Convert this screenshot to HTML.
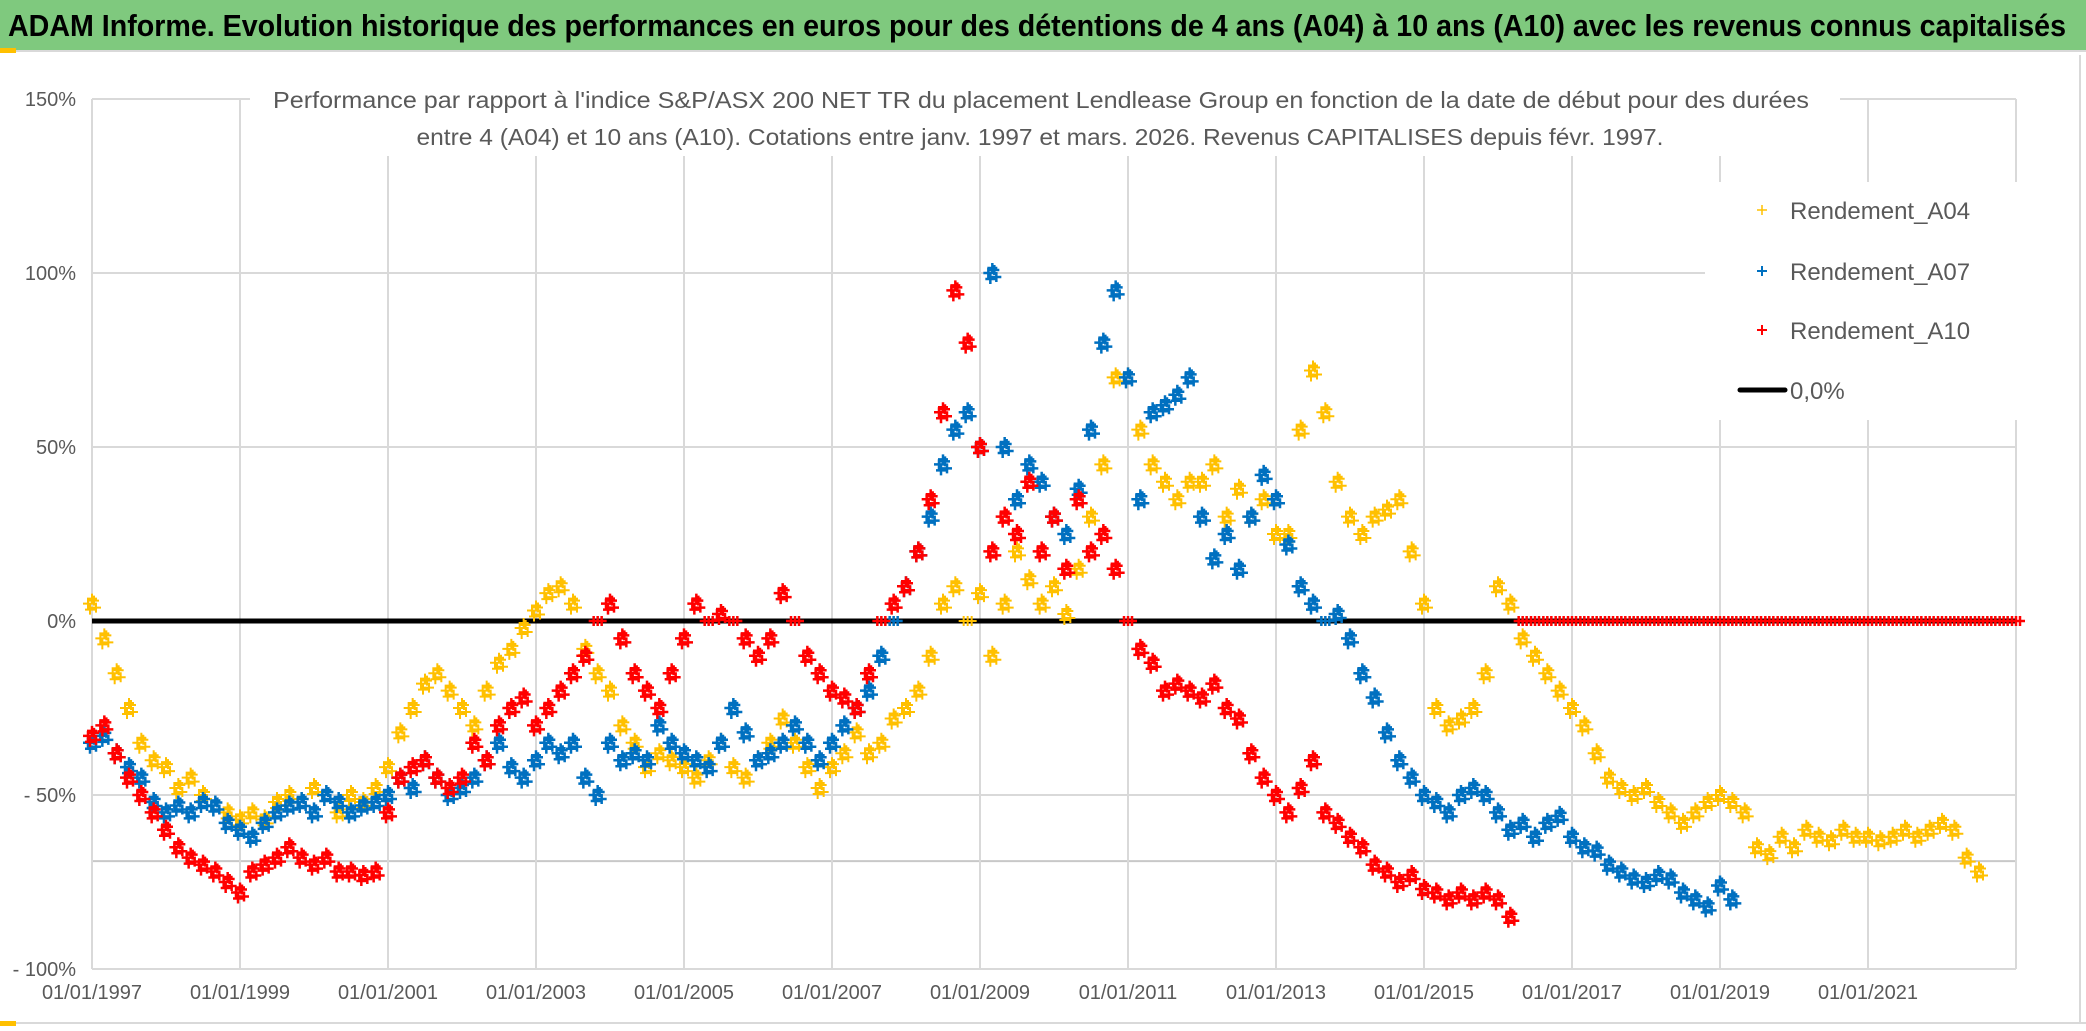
<!DOCTYPE html>
<html><head><meta charset="utf-8">
<style>
html,body{margin:0;padding:0;background:#fff;}
svg{display:block;}
text{font-family:"Liberation Sans",sans-serif;}
</style></head>
<body>
<svg id="chart" width="2086" height="1031" viewBox="0 0 2086 1031" xmlns="http://www.w3.org/2000/svg">
  <rect x="0" y="0" width="2086" height="1031" fill="#fff"/>
  <rect x="0" y="0" width="2086" height="50" fill="#7fc97e"/>
  <line x1="0" y1="51" x2="2086" y2="51" stroke="#d9d9d9" stroke-width="2"/>
  <rect x="0" y="48" width="16" height="5" fill="#ffc000"/>
  <text x="8" y="36" font-size="31" font-weight="bold" fill="#000" textLength="2058" lengthAdjust="spacingAndGlyphs">ADAM Informe. Evolution historique des performances en euros pour des détentions de 4 ans (A04) à 10 ans (A10) avec les revenus connus capitalisés</text>
  <line x1="2080" y1="55" x2="2080" y2="1022" stroke="#d9d9d9" stroke-width="2"/>
  <line x1="0" y1="1023" x2="2086" y2="1023" stroke="#d9d9d9" stroke-width="2"/>
  <rect x="0" y="1021" width="16" height="5" fill="#ffc000"/>
  <g id="grid"></g>
  <g id="axes"></g>
  <g id="marks"></g>
  <rect x="250" y="76" width="1590" height="80" fill="#fff"/>
  <text x="1041" y="108" font-size="23" fill="#595959" text-anchor="middle" textLength="1536" lengthAdjust="spacingAndGlyphs">Performance par rapport à l'indice S&amp;P/ASX 200 NET TR  du placement Lendlease Group en fonction de la date de début pour des durées</text>
  <text x="1040" y="145" font-size="23" fill="#595959" text-anchor="middle" textLength="1247" lengthAdjust="spacingAndGlyphs">entre 4 (A04) et 10 ans (A10). Cotations entre janv. 1997 et mars. 2026. Revenus CAPITALISES depuis févr. 1997.</text>
  <g>
    <rect x="1705" y="182" width="330" height="238" fill="#fff"/>
    <g>
      <path d="M1757 210h10M1762 205v10" stroke="#ffc000" stroke-width="1.5"/>
      <text x="1790" y="219" font-size="24" fill="#595959">Rendement_A04</text>
    </g>
    <g>
      <path d="M1757 271h10M1762 266v10" stroke="#0070c0" stroke-width="2"/>
      <text x="1790" y="280" font-size="24" fill="#595959">Rendement_A07</text>
    </g>
    <g>
      <path d="M1757 330h10M1762 325v10" stroke="#ff0000" stroke-width="2"/>
      <text x="1790" y="339" font-size="24" fill="#595959">Rendement_A10</text>
    </g>
    <g>
      <line x1="1740" y1="390" x2="1785" y2="390" stroke="#000" stroke-width="5" stroke-linecap="round"/>
      <text x="1790" y="399" font-size="24" fill="#595959">0,0%</text>
    </g>
  </g>
</svg>
<script>
const yTicks = [150, 100, 50, 0, -50, -100];
const yTickLabels = ["150%", "100%", "50%", "0%", "- 50%", "- 100%"];
const xTicks = [1997, 1999, 2001, 2003, 2005, 2007, 2009, 2011, 2013, 2015, 2017, 2019, 2021];
const xTickLabels = ["01/01/1997","01/01/1999","01/01/2001","01/01/2003","01/01/2005","01/01/2007","01/01/2009","01/01/2011","01/01/2013","01/01/2015","01/01/2017","01/01/2019","01/01/2021"];
const extraGridValue = [-69];
const zeroLineValue = [0];
const seriesStart = 1997;
const seriesStep = 1/6;
const a04 = [5,-5,-15,-25,-35,-40, -42,-48,-45,-50,-53,-55, -57,-55,-57,-52,-50,-52, -48,-50,-55,-50,-52,-48,
  -42,-32,-25,-18,-15,-20, -25,-30,-20,-12,-8,-2, 3,8,10,5,-8,-15, -20,-30,-35,-42,-38,-40,
  -42,-45,-40,-35,-42,-45, -40,-35,-28,-35,-42,-48, -42,-38,-32,-38,-35,-28, -25,-20,-10,5,10,0,
  8,-10,5,20,12,5, 10,2,15,30,45,70, 70,55,45,40,35,40, 40,45,30,38,30,35,
  25,25,55,72,60,40, 30,25,30,32,35,20, 5,-25,-30,-28,-25,-15, 10,5,-5,-10,-15,-20,
  -25,-30,-38,-45,-48,-50, -48,-52,-55,-58,-55,-52, -50,-52,-55,-65,-67,-62, -65,-60,-62,-63,-60,-62,
  -62,-63,-62,-60,-62,-60, -58,-60,-68,-72];
const a07 = [-35,-33,-38,-42,-45,-52, -55,-53,-55,-52,-53,-58, -60,-62,-58,-55,-53,-52, -55,-50,-52,-55,-53,-52,
  -50,-45,-48,-40,-45,-50, -48,-45,-40,-35,-42,-45, -40,-35,-38,-35,-45,-50, -35,-40,-38,-40,-30,-35,
  -38,-40,-42,-35,-25,-32, -40,-38,-35,-30,-35,-40, -35,-30,-25,-20,-10,0, 10,20,30,45,55,60,
  50,100,50,35,45,40, 30,25,38,55,80,95, 70,35,60,62,65,70, 30,18,25,15,30,42,
  35,22,10,5,0,2, -5,-15,-22,-32,-40,-45, -50,-52,-55,-50,-48,-50, -55,-60,-58,-62,-58,-56,
  -62,-65,-66,-70,-72,-74, -75,-73,-74,-78,-80,-82, -76,-80];
const a10 = [-33,-30,-38,-45,-50,-55, -60,-65,-68,-70,-72,-75, -78,-72,-70,-68,-65,-68, -70,-68,-72,-72,-73,-72,
  -55,-45,-42,-40,-45,-48, -45,-35,-40,-30,-25,-22, -30,-25,-20,-15,-10,0, 5,-5,-15,-20,-25,-15,
  -5,5,0,2,0,-5, -10,-5,8,0,-10,-15, -20,-22,-25,-15,0,5, 10,20,35,60,95,80,
  50,20,30,25,40,20, 30,15,35,20,25,15, 0,-8,-12,-20,-18,-20, -22,-18,-25,-28,-38,-45,
  -50,-55,-48,-40,-55,-58, -62,-65,-70,-72,-75,-73, -77,-78,-80,-78,-80,-78, -80,-85,
  0,0,0,0, 0,0,0,0,0,0, 0,0,0,0,0,0, 0,0,0,0,0,0, 0,0,0,0,0,0, 0,0,0,0,0,0, 0,0,0,0,0,0, 0];

const NS = "http://www.w3.org/2000/svg";
const X0 = 92, PX_PER_YEAR = 74, XEND = 2016;
const Y0 = 621, PX_PER_PCT = 3.48;
function xScale(t){ return X0 + (t - 1997) * PX_PER_YEAR; }
function yScale(v){ return Y0 - v * PX_PER_PCT; }
function mk(tag, attrs, parent){ const e = document.createElementNS(NS, tag); for (const k in attrs) e.setAttribute(k, attrs[k]); parent.appendChild(e); return e; }

const grid = document.getElementById('grid');
const axes = document.getElementById('axes');
const marks = document.getElementById('marks');

yTicks.forEach((v, i) => {
  if (v !== 0) {
    const l = mk('line', {x1: X0, x2: XEND, y1: yScale(v), y2: yScale(v), stroke: '#d9d9d9', 'stroke-width': 2}, grid);
    
    
  }
  const t = mk('text', {x: 76, y: yScale(v) + 7, 'font-size': 20, fill: '#595959', 'text-anchor': 'end'}, axes);
  t.textContent = yTickLabels[i];
  
  
});
extraGridValue.forEach(v => {
  const l = mk('line', {x1: X0, x2: XEND, y1: yScale(v), y2: yScale(v), stroke: '#c8c8c8', 'stroke-width': 2}, grid);
  
  
});
xTicks.forEach((t, i) => {
  const l = mk('line', {x1: xScale(t), x2: xScale(t), y1: yScale(150), y2: yScale(-100), stroke: '#d9d9d9', 'stroke-width': 2}, grid);
  
  
  const tx = mk('text', {x: xScale(t), y: 999, 'font-size': 20, fill: '#595959', 'text-anchor': 'middle'}, axes);
  tx.textContent = xTickLabels[i];
  
  
});
const xEndLine = mk('line', {x1: XEND, x2: XEND, y1: yScale(150), y2: yScale(-100), stroke: '#d9d9d9', 'stroke-width': 2}, grid);



zeroLineValue.forEach(v => {
  const z = mk('line', {x1: X0, x2: XEND, y1: yScale(v), y2: yScale(v), stroke: '#000', 'stroke-width': 5}, marks);
  
  
});

// marker cluster offsets (pixel styling: each reading drawn as a small dense cluster of "+" like the daily scatter)
const CLUSTER = [[-4,0],[0,-5],[4,4],[-2,6],[2,-3]];
function drawSeries(vals, color, name, sw){
  const g = mk('g', {stroke: color, 'stroke-width': sw, fill: 'none'}, marks);
  
  
  vals.forEach((v, i) => {
    const cx = xScale(seriesStart + i * seriesStep), cy = yScale(v);
    let d = '';
    const spread = v === 0 ? [[-4,0],[0,0],[4,0]] : CLUSTER;
    spread.forEach(([dx, dy]) => { d += `M${cx+dx-5} ${cy+dy}h10M${cx+dx} ${cy+dy-5}v10`; });
    const p = mk('path', {d: d}, g);
    
    
  });
}
drawSeries(a04, '#ffc000', 'series-a04', 2);
drawSeries(a07, '#0070c0', 'series-a07', 2.5);
drawSeries(a10, '#ff0000', 'series-a10', 2.5);
</script>
</body></html>
